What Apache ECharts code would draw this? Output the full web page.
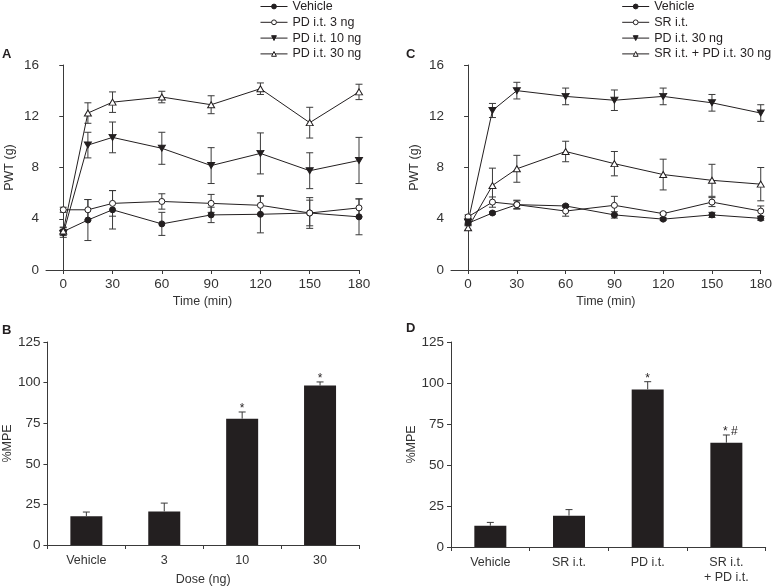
<!DOCTYPE html>
<html><head><meta charset="utf-8">
<script src="https://cdn.jsdelivr.net/npm/echarts@6/dist/echarts.min.js"></script>
<style>html,body{margin:0;padding:0;background:#fff}#c{width:775px;height:587px}</style>
</head><body><div id="c"></div>
<script>
// ---- data ----
const times = [0, 15, 30, 60, 90, 120, 150, 180];
const timeTicks = [0, 30, 60, 90, 120, 150, 180];

const aVehicle = [3.0, 3.9, 4.7, 3.6, 4.3, 4.35, 4.45, 4.15];
const aVehicleErr = [0.3, 1.6, 1.5, 0.9, 0.6, 1.45, 1.0, 1.4];
const aPd3 = [4.7, 4.7, 5.2, 5.35, 5.2, 5.05, 4.45, 4.85];
const aPd3Err = [0.2, 0.8, 1.0, 0.6, 0.7, 0.7, 1.2, 0.7];
const aPd10 = [2.85, 9.75, 10.35, 9.5, 8.15, 9.1, 7.75, 8.55];
const aPd10Err = [0.3, 1.0, 1.2, 1.25, 1.4, 1.6, 1.4, 1.8];
const aPd30 = [3.05, 12.25, 13.1, 13.5, 12.9, 14.15, 11.5, 13.9];
const aPd30Err = [0.3, 0.8, 0.8, 0.45, 0.7, 0.45, 1.2, 0.6];

const cVehicle = [3.65, 4.45, 5.1, 5.0, 4.3, 3.97, 4.3, 4.03];
const cVehicleErr = [0.2, 0.1, 0.3, 0.1, 0.25, 0.1, 0.2, 0.15];
const cSr = [4.15, 5.3, 5.1, 4.6, 5.05, 4.4, 5.3, 4.6];
const cSrErr = [0.15, 0.4, 0.35, 0.4, 0.7, 0.1, 0.35, 0.4];
const cPd30 = [3.75, 12.45, 14.0, 13.55, 13.25, 13.55, 13.05, 12.25];
const cPd30Err = [0.2, 0.55, 0.65, 0.65, 0.8, 0.65, 0.65, 0.65];
const cSrPd = [3.3, 6.6, 7.9, 9.25, 8.3, 7.45, 7.0, 6.7];
const cSrPdErr = [0.2, 1.35, 1.05, 0.8, 0.95, 1.2, 1.25, 1.3];

const bCats = ['Vehicle', '3', '10', '30'];
const bVals = [17.7, 20.7, 77.8, 98.2];
const bErr = [2.6, 5.1, 4.1, 2.2];
const bSig = ['', '', '*', '*'];

const dCats = ['Vehicle', 'SR i.t.', 'PD i.t.', 'SR i.t.\n+ PD i.t.'];
const dVals = [13.0, 19.1, 96.1, 63.6];
const dErr = [2.0, 3.7, 4.7, 4.7];
const dSig = ['', '', '*', '* #'];

const legendA = ['Vehicle', 'PD i.t. 3 ng', 'PD i.t. 10 ng', 'PD i.t. 30 ng'];
const legendC = ['Vehicle', 'SR i.t.', 'PD i.t. 30 ng', 'SR i.t. + PD i.t. 30 ng'];

// ---- styles ----
const INK = '#231f20';
const AXIS = '#3a3a3a';
const FONT = 'Liberation Sans, Arial, sans-serif';
const INV_TRI = 'path://M0,0 L10,0 L5,8.66 Z';
const markers = [
  {symbol: 'circle', size: 6, fill: INK},
  {symbol: 'circle', size: 6, fill: '#fff'},
  {symbol: INV_TRI, size: [7, 6], fill: INK},
  {symbol: 'triangle', size: [7, 6], fill: '#fff'}
];

function lineSeries(prefix, names, vals, gridIdx) {
  return names.map((n, k) => ({
    type: 'line', name: prefix + n, xAxisIndex: gridIdx, yAxisIndex: gridIdx,
    data: times.map((t, i) => [t, vals[k][i]]),
    symbol: markers[k].symbol, symbolSize: markers[k].size, showAllSymbol: true,
    itemStyle: {color: markers[k].fill, borderColor: INK, borderWidth: 1, opacity: 1},
    lineStyle: {color: INK, width: 1}, z: 3, animation: false
  }));
}
function errSeries(vals, errs, gridIdx) {
  const data = [];
  vals.forEach((v, k) => times.forEach((t, i) => data.push([t, v[i] - errs[k][i], v[i] + errs[k][i]])));
  return {
    type: 'custom', xAxisIndex: gridIdx, yAxisIndex: gridIdx, z: 2, animation: false,
    encode: {x: 0, y: [1, 2]}, data: data,
    renderItem: function (params, api) {
      const p1 = api.coord([api.value(0), api.value(1)]);
      const p2 = api.coord([api.value(0), api.value(2)]);
      const w = 3.5, st = {stroke: AXIS, lineWidth: 1};
      return {type: 'group', children: [
        {type: 'line', shape: {x1: p1[0], y1: p1[1], x2: p2[0], y2: p2[1]}, style: st},
        {type: 'line', shape: {x1: p1[0] - w, y1: p1[1], x2: p1[0] + w, y2: p1[1]}, style: st},
        {type: 'line', shape: {x1: p2[0] - w, y1: p2[1], x2: p2[0] + w, y2: p2[1]}, style: st}
      ]};
    }
  };
}
function barErrSeries(vals, errs, sig, gridIdx) {
  return {
    type: 'custom', xAxisIndex: gridIdx, yAxisIndex: gridIdx, z: 4, animation: false,
    encode: {x: 0, y: [1, 2]}, data: vals.map((v, i) => [i, v, v + errs[i]]),
    renderItem: function (params, api) {
      const p1 = api.coord([api.value(0), api.value(1)]);
      const p2 = api.coord([api.value(0), api.value(2)]);
      const w = 3.5, st = {stroke: AXIS, lineWidth: 1};
      const s = sig[params.dataIndex];
      const ch = [
        {type: 'line', shape: {x1: p1[0], y1: p1[1], x2: p2[0], y2: p2[1]}, style: st},
        {type: 'line', shape: {x1: p2[0] - w, y1: p2[1], x2: p2[0] + w, y2: p2[1]}, style: st}
      ];
      if (s) ch.push({type: 'text', x: p2[0] + (s.length > 1 ? 4 : 0), y: p2[1] - 3,
        style: {text: s, fill: INK, font: '12px ' + FONT, align: 'center', verticalAlign: 'middle'}});
      return {type: 'group', children: ch};
    }
  };
}

const axisLineS = {lineStyle: {color: AXIS, width: 1}};
const tickS = {show: true, length: 4, lineStyle: {color: AXIS}};
const numLabel = {color: '#333', fontSize: 13.5, fontFamily: FONT, margin: 7};
const nameS = {color: '#333', fontSize: 12.5, fontFamily: FONT};

function timeAxis(gi) {
  return {type: 'value', gridIndex: gi, min: -10.5, max: 180,
    name: 'Time (min)', nameLocation: 'middle', nameGap: 25, nameTextStyle: nameS,
    axisLine: axisLineS, splitLine: {show: false},
    axisTick: Object.assign({customValues: timeTicks}, tickS),
    axisLabel: Object.assign({customValues: timeTicks}, numLabel)};
}
function pwtAxis(gi, gap) {
  return {type: 'value', gridIndex: gi, min: 0, max: 16, interval: 4,
    name: 'PWT (g)', nameLocation: 'middle', nameGap: gap, nameTextStyle: nameS,
    axisLine: Object.assign({show: true}, axisLineS), axisTick: tickS, axisLabel: numLabel,
    splitLine: {show: false}};
}
function mpeAxis(gi, gap) {
  return {type: 'value', gridIndex: gi, min: 0, max: 125, interval: 25,
    name: '%MPE', nameLocation: 'middle', nameGap: gap, nameTextStyle: nameS,
    axisLine: Object.assign({show: true}, axisLineS), axisTick: tickS, axisLabel: numLabel,
    splitLine: {show: false}};
}
function catAxis(gi, cats, name) {
  return {type: 'category', gridIndex: gi, data: cats,
    name: name, nameLocation: 'middle', nameGap: 28, nameTextStyle: nameS,
    axisLine: axisLineS, axisTick: tickS,
    axisLabel: {color: '#333', fontSize: 12.5, fontFamily: FONT, margin: 8, lineHeight: 15}};
}

const chart = echarts.init(document.getElementById('c'), null, {renderer: 'canvas'});
const legendCommon = {orient: 'vertical', top: 0, padding: 0, itemWidth: 27, itemHeight: 6, itemGap: 2.8,
  lineStyle: {width: 1, color: INK}, itemStyle: {borderWidth: 1, borderColor: INK},
  textStyle: {color: INK, fontSize: 12.5, fontFamily: FONT},
  formatter: n => n.slice(2), selectedMode: false};

chart.setOption({
  animation: false,
  backgroundColor: '#fff',
  grid: [
    {left: 46, top: 65, width: 313, height: 205},
    {left: 451, top: 65, width: 313.3, height: 205},
    {left: 46, top: 342, width: 313, height: 205},
    {left: 451, top: 342, width: 314.7, height: 205}
  ],
  xAxis: [timeAxis(0), timeAxis(1), catAxis(2, bCats, 'Dose (ng)'), catAxis(3, dCats, '')],
  yAxis: [pwtAxis(0, 30), pwtAxis(1, 30), mpeAxis(2, 33), mpeAxis(3, 33)],
  legend: [
    Object.assign({left: 260, data: legendA.map(n => 'A:' + n)}, legendCommon),
    Object.assign({left: 621.7, data: legendC.map(n => 'C:' + n)}, legendCommon)
  ],
  graphic: [
    {type: 'text', left: 2, top: 48, style: {text: 'A', font: 'bold 13px ' + FONT, fill: INK}},
    {type: 'text', left: 2, top: 324, style: {text: 'B', font: 'bold 13px ' + FONT, fill: INK}},
    {type: 'text', left: 406, top: 48, style: {text: 'C', font: 'bold 13px ' + FONT, fill: INK}},
    {type: 'text', left: 406, top: 322, style: {text: 'D', font: 'bold 13px ' + FONT, fill: INK}}
  ],
  series: [].concat(
    errSeries([aVehicle, aPd3, aPd10, aPd30], [aVehicleErr, aPd3Err, aPd10Err, aPd30Err], 0),
    lineSeries('A:', legendA, [aVehicle, aPd3, aPd10, aPd30], 0),
    errSeries([cVehicle, cSr, cPd30, cSrPd], [cVehicleErr, cSrErr, cPd30Err, cSrPdErr], 1),
    lineSeries('C:', legendC, [cVehicle, cSr, cPd30, cSrPd], 1),
    [{type: 'bar', xAxisIndex: 2, yAxisIndex: 2, data: bVals, barWidth: 32,
      itemStyle: {color: INK}, z: 3, animation: false},
     barErrSeries(bVals, bErr, bSig, 2),
     {type: 'bar', xAxisIndex: 3, yAxisIndex: 3, data: dVals, barWidth: 32,
      itemStyle: {color: INK}, z: 3, animation: false},
     barErrSeries(dVals, dErr, dSig, 3)]
  )
});
</script></body></html>
